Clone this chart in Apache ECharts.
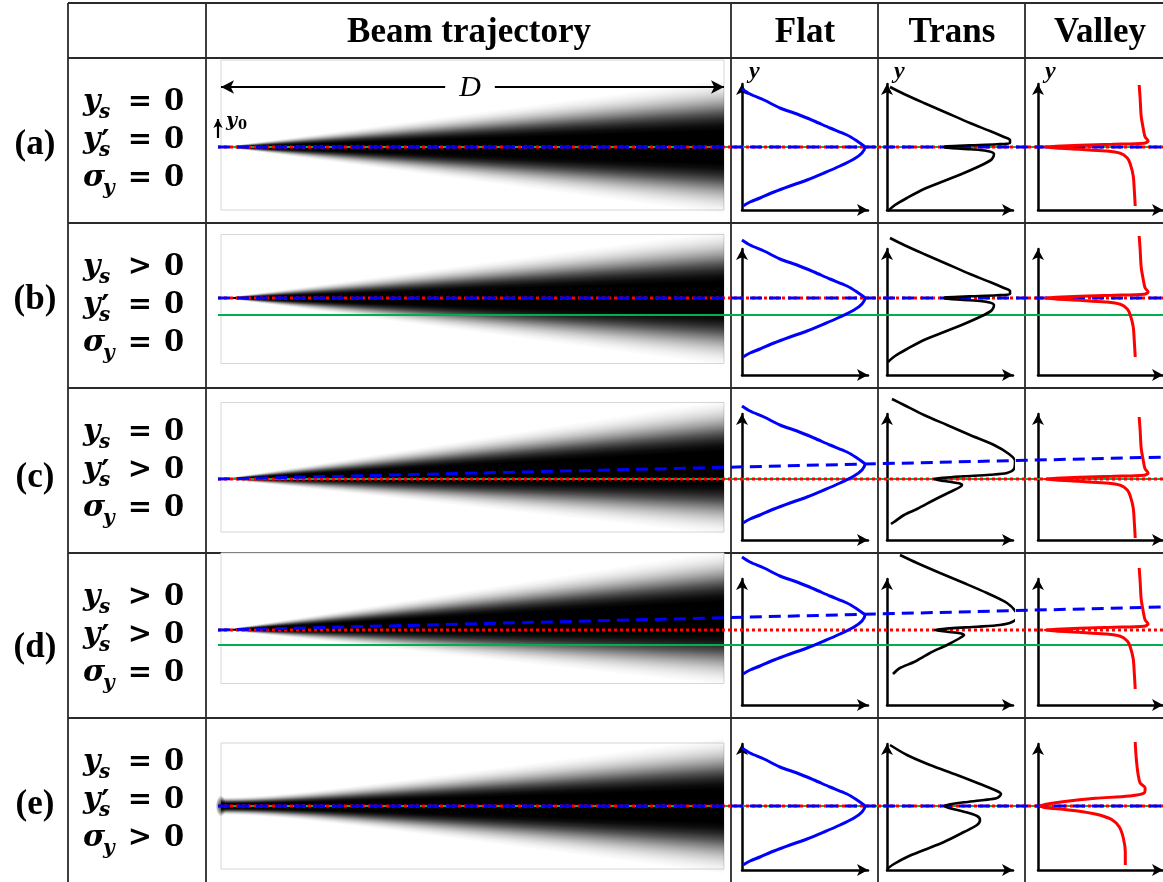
<!DOCTYPE html>
<html>
<head>
<meta charset="utf-8">
<script src="https://cdn.jsdelivr.net/npm/echarts@6/dist/echarts.min.js"></script>
<style>
  html, body { margin: 0; padding: 0; background: #fff; }
  #chart { width: 1163px; height: 882px; }
</style>
</head>
<body>
<div id="chart"></div>
<script>
// ---------- table content ----------
const rowTags = ['(a)', '(b)', '(c)', '(d)', '(e)'];
const ysSign = ['=', '>', '=', '>', '='];
const yspSign = ['=', '=', '>', '>', '='];
const sigmaSign = ['=', '=', '=', '=', '>'];
const columnTitles = ['Beam trajectory', 'Flat', 'Trans', 'Valley'];

// ---------- source parameters per row ----------
// offset of the source from the axis (y units), tilt (y units per D), source size
const sourceOffset = [0, 17, 0, 15, 0];
const sourceSlope = [0, 0, 11.7, 12.3, 0];
const sourceSize = [0, 0, 0, 0, 9];
const beamSpread = 68;                 // half width of the fan at distance D
// darkness across the fan: [fraction of half width, darkness]
const beamShade = [[0, 1], [0.24, 1], [0.32, 0.95], [0.41, 0.83], [0.5, 0.67], [0.58, 0.5],
                   [0.66, 0.35], [0.74, 0.22], [0.82, 0.12], [0.9, 0.05], [1, 0]];

// centre of the flat profile and of the dip, per row (y units)
const flatCenter = [0, 17, 15, 30, 0];
const dipCenter = [0, 17, 0, 15, 0];

// ---------- intensity profiles: [intensity, y offset] ----------
const flatProfile = [[0, 58], [8, 53], [22, 47], [38, 39], [55, 33], [72, 26], [88, 19], [105, 12],
  [115, 6], [122, 1], [123, 0], [120, -6], [112, -12], [98, -19], [82, -26], [65, -33], [48, -39],
  [32, -45], [18, -51], [8, -55], [1, -59]];
const transCentered = [[3, 60], [17, 53], [37, 44], [60, 34], [83, 24], [103, 16], [117, 10],
  [123, 7], [123, 4], [110, 2.7], [83, 1.7], [60, 0.7], [57, 0], [63, -1], [83, -2.3], [100, -4],
  [107, -7], [105, -12], [97, -17], [77, -26], [57, -34], [37, -42], [20, -51], [8, -58], [1, -64]];
const transShiftC = [[5, 80], [17, 74], [37, 64], [60, 54], [83, 44], [107, 34], [122, 25],
  [128, 18], [127, 10], [120, 6], [103, 4.3], [77, 2.7], [57, 1.3], [47, 0], [57, -2], [70, -4],
  [75, -5.7], [73, -8], [63, -13], [47, -21], [30, -30], [17, -36], [7, -43], [4, -45]];
const transShiftD = [[13, 75], [30, 67], [53, 57], [77, 47], [100, 37], [120, 27], [129, 18],
  [130, 13], [125, 8], [113, 5], [90, 3.3], [63, 1.7], [48, 0], [60, -1.7], [73, -3.3], [77, -5],
  [73, -8], [60, -15], [43, -23], [27, -32], [13, -38], [6, -44]];
const transWide = [[3, 61], [20, 51], [43, 41], [70, 31], [93, 22], [110, 15], [114, 12], [110, 8],
  [97, 6], [77, 3.7], [63, 1.7], [58, 0], [63, -2.3], [77, -5.7], [90, -10], [93, -14], [90, -19],
  [77, -26], [57, -36], [37, -44], [20, -51], [7, -58], [0, -63]];
const valleyNarrow = [[102, 62], [103, 48], [104, 31], [106, 19], [108, 10], [111, 6], [107, 3.7],
  [75, 2.7], [42, 1.7], [18, 0.7], [7, 0], [18, -1], [42, -2.3], [68, -4], [83, -6.3], [90, -11],
  [93, -17], [96, -29], [97, -42], [98, -59]];
const valleyWide = [[98, 64], [99, 48], [101, 31], [103, 23], [108, 18], [107, 13], [92, 10],
  [58, 7.7], [25, 4.3], [8, 1.7], [3, 0], [8, -1.7], [25, -3.3], [45, -5.7], [62, -9], [75, -14],
  [82, -21], [86, -32], [88, -46], [88, -59]];
const transByRow = [transCentered, transCentered, transShiftC, transShiftD, transWide];
const valleyByRow = [valleyNarrow, valleyNarrow, valleyNarrow, valleyNarrow, valleyWide];

// ---------- layout (pixels) ----------
const W = 1163, H = 882;
const rowTop = [58, 223, 388, 553, 718];
const rowZero = [147, 315, 479, 645, 806];          // pixel row of y = 0
const frameBox = [[60, 210], [234.5, 363.5], [402.5, 532], [553, 683.5], [743, 869]];
const hRules = [3, 58, 223, 388, 553, 718];
const vRules = [68, 206, 731, 878, 1025];
const apexX = 221, pxPerD = 503;
const profileAxisX = [742, 887, 1038];
const profileSpan = 126;
const titleX = [469, 805, 952, 1100];
const tagY = [145, 300, 478, 648, 805];
const xMinD = -0.01, xMaxD = (W - apexX) / pxPerD, lineStartD = -0.006;

const SERIF = '"DejaVu Serif", "Liberation Serif", serif';
const TIMES = '"Liberation Serif", "DejaVu Serif", serif';
const BLUE = '#0000ff', RED = '#ff0000', GREEN = '#00b050';

const shadeStops = [];
beamShade.slice().reverse().forEach(([u, d]) => shadeStops.push({ offset: 0.5 - u / 2, color: 'rgba(0,0,0,' + d + ')' }));
beamShade.slice(1).forEach(([u, d]) => shadeStops.push({ offset: 0.5 + u / 2, color: 'rgba(0,0,0,' + d + ')' }));

// fan of the beam: vertical strips whose height follows the envelope
function renderBeam(params, api) {
  const ys = api.value(0), slope = api.value(1), s0 = api.value(2);
  const p0 = api.coord([0, ys]), p1 = api.coord([1, ys]);
  const span = p1[0] - p0[0];
  const step = 2;
  const kids = [];
  const xa = Math.round(p0[0]), xb = Math.round(p1[0]);
  for (let px = xa; px < xb; px += step) {
    const w = Math.min(step, xb - px);
    const d = (px + w / 2 - p0[0]) / span;
    const half = Math.hypot(s0, beamSpread * d);
    const mid = ys + slope * d;
    const yTop = api.coord([d, mid + half])[1];
    const yBot = api.coord([d, mid - half])[1];
    if (yBot - yTop < 0.6) continue;
    kids.push({
      type: 'rect',
      shape: { x: px, y: yTop, width: w, height: yBot - yTop },
      style: { fill: { type: 'linear', x: 0, y: 0, x2: 0, y2: 1, colorStops: shadeStops } }
    });
  }
  if (s0 > 0) {
    kids.push({
      type: 'circle', x: p0[0], y: p0[1], scaleX: 0.5,
      shape: { cx: 0, cy: 0, r: s0 * 1.15 },
      style: { fill: { type: 'radial', x: 0.5, y: 0.5, r: 0.5, colorStops: [
        { offset: 0, color: 'rgba(0,0,0,0.8)' }, { offset: 0.55, color: 'rgba(0,0,0,0.45)' },
        { offset: 1, color: 'rgba(0,0,0,0.03)' }] } }
    });
  }
  return { type: 'group', children: kids };
}

const grids = [], xAxes = [], yAxes = [], series = [];
const arrowAxisLine = {
  show: true, onZero: false, symbol: ['none', 'arrow'], symbolSize: [9, 11],
  lineStyle: { color: '#000', width: 2.5 }
};
const hidden = { axisTick: { show: false }, axisLabel: { show: false }, splitLine: { show: false } };

rowTags.forEach((tag, r) => {
  const top = rowTop[r] + 26, height = 126;
  const yMax = rowZero[r] - top, yMin = rowZero[r] - (top + height);
  const base = r * 4;
  // beam track spanning to the right edge
  grids.push({ left: apexX + xMinD * pxPerD, width: (xMaxD - xMinD) * pxPerD, top, height });
  xAxes.push({ gridIndex: base, type: 'value', min: xMinD, max: xMaxD, show: false });
  yAxes.push({ gridIndex: base, type: 'value', min: yMin, max: yMax, show: false });
  // three profile panels
  profileAxisX.forEach((ax, k) => {
    grids.push({ left: ax, width: profileSpan, top, height });
    xAxes.push(Object.assign({ gridIndex: base + k + 1, type: 'value', min: 0, max: profileSpan,
      position: 'bottom', axisLine: arrowAxisLine }, hidden));
    yAxes.push(Object.assign({ gridIndex: base + k + 1, type: 'value', min: yMin, max: yMax,
      position: 'left', axisLine: arrowAxisLine }, hidden));
  });

  const ys = sourceOffset[r], sl = sourceSlope[r];
  series.push({
    type: 'custom', xAxisIndex: base, yAxisIndex: base, silent: true, clip: false, z: 2,
    renderItem: renderBeam, data: [[ys, sl, sourceSize[r]]]
  });
  const green = {
    type: 'line', xAxisIndex: base, yAxisIndex: base, silent: true, z: 3, symbol: 'none',
    lineStyle: { color: GREEN, width: 2 },
    data: [[lineStartD, 0], [xMaxD, 0]]
  };
  if (r === 0) {
    green.markLine = {
      silent: true, symbol: ['arrow', 'arrow'], symbolSize: [10, 13], label: { show: false },
      lineStyle: { color: '#000', width: 2.2, type: 'solid' },
      data: [
        [{ coord: [0, 60] }, { coord: [1, 60] }],
        [{ coord: [lineStartD, 9], symbol: 'none' }, { coord: [lineStartD, 28], symbol: 'arrow', symbolSize: [7, 9] }]
      ]
    };
  }
  series.push(green);
  series.push({
    type: 'line', xAxisIndex: base, yAxisIndex: base, silent: true, z: 4, symbol: 'none',
    lineStyle: { color: RED, width: 3, type: [3, 3] },
    data: [[lineStartD, ys], [xMaxD, ys]]
  });
  series.push({
    type: 'line', xAxisIndex: base, yAxisIndex: base, silent: true, z: 5, symbol: 'none',
    lineStyle: { color: BLUE, width: 3, type: [12, 7] },
    data: [[lineStartD, ys + sl * lineStartD], [xMaxD, ys + sl * xMaxD]]
  });
  // profiles
  const curve = (k, src, center, color, width) => series.push({
    type: 'line', xAxisIndex: base + k, yAxisIndex: base + k, silent: true, z: 6,
    symbol: 'none', smooth: 0.3, clip: false,
    lineStyle: { color, width },
    data: src.map(([v, dy]) => [v, center + dy])
  });
  curve(1, flatProfile, flatCenter[r], BLUE, 3);
  curve(2, transByRow[r], dipCenter[r], '#000', 2.6);
  curve(3, valleyByRow[r], dipCenter[r], RED, 3);
});

// ---------- table rules, frames and text ----------
const graphics = [];
hRules.forEach(y => graphics.push({ type: 'line', z: 0, silent: true,
  shape: { x1: vRules[0], y1: y, x2: W, y2: y }, style: { stroke: '#2a2a2a', lineWidth: 1.8 } }));
vRules.forEach(x => graphics.push({ type: 'line', z: 0, silent: true,
  shape: { x1: x, y1: hRules[0], x2: x, y2: H }, style: { stroke: '#2a2a2a', lineWidth: 1.8 } }));
frameBox.forEach(([t, b]) => graphics.push({ type: 'rect', z: 1, silent: true,
  shape: { x: apexX, y: t, width: 724 - apexX, height: b - t },
  style: { fill: '#fff', stroke: '#d6d6d6', lineWidth: 1 } }));

function txt(x, y, text, font, align, extra) {
  return { type: 'text', z: 10, silent: true, x, y,
    style: Object.assign({ text, font, fill: '#000', textAlign: align || 'center',
      textVerticalAlign: 'middle', align: align || 'center', verticalAlign: 'middle' }, extra || {}) };
}

columnTitles.forEach((t, i) => graphics.push(txt(titleX[i], 33, t, 'bold 35px ' + TIMES)));

const BI = 'italic bold 30px ' + SERIF, BI_SUB = 'italic bold 20px ' + SERIF, B = 'bold 29px ' + SERIF;
rowTags.forEach((tag, r) => {
  graphics.push(txt(35, tagY[r], tag, 'bold 35px ' + TIMES));
  const mid = rowTop[r] + 82.5;
  const lines = [
    { main: 'y', sub: 's', prime: false, sign: ysSign[r], cy: mid - 38 },
    { main: 'y', sub: 's', prime: true, sign: yspSign[r], cy: mid },
    { main: 'σ', sub: 'y', prime: false, sign: sigmaSign[r], cy: mid + 38 }
  ];
  lines.forEach(l => {
    const subX = l.main === 'σ' ? 103 : 99;
    graphics.push(txt(83, l.cy, l.main, BI, 'left'));
    graphics.push(txt(subX, l.cy + 10, l.sub, BI_SUB, 'left'));
    if (l.prime) graphics.push(txt(101, l.cy + 3, '′', 'bold 32px "DejaVu Sans", sans-serif', 'left'));
    graphics.push(txt(140, l.cy, l.sign, B));
    graphics.push(txt(174, l.cy, '0', B));
  });
});

// annotations of the first row
graphics.push(txt(470, 88, 'D', 'italic 30px ' + TIMES, 'center', { backgroundColor: '#fff', padding: [0, 14] }));
graphics.push(txt(226, 121, 'y', 'italic bold 19px ' + SERIF, 'left'));
graphics.push(txt(238, 126, '0', 'bold 13px ' + SERIF, 'left'));
profileAxisX.forEach(ax => graphics.push(txt(ax + 7, 72, 'y', 'italic bold 24px ' + TIMES, 'left')));

const chart = echarts.init(document.getElementById('chart'), null, { renderer: 'canvas' });
chart.setOption({
  animation: false,
  backgroundColor: '#fff',
  grid: grids,
  xAxis: xAxes,
  yAxis: yAxes,
  series,
  graphic: { elements: graphics }
});
</script>
</body>
</html>
